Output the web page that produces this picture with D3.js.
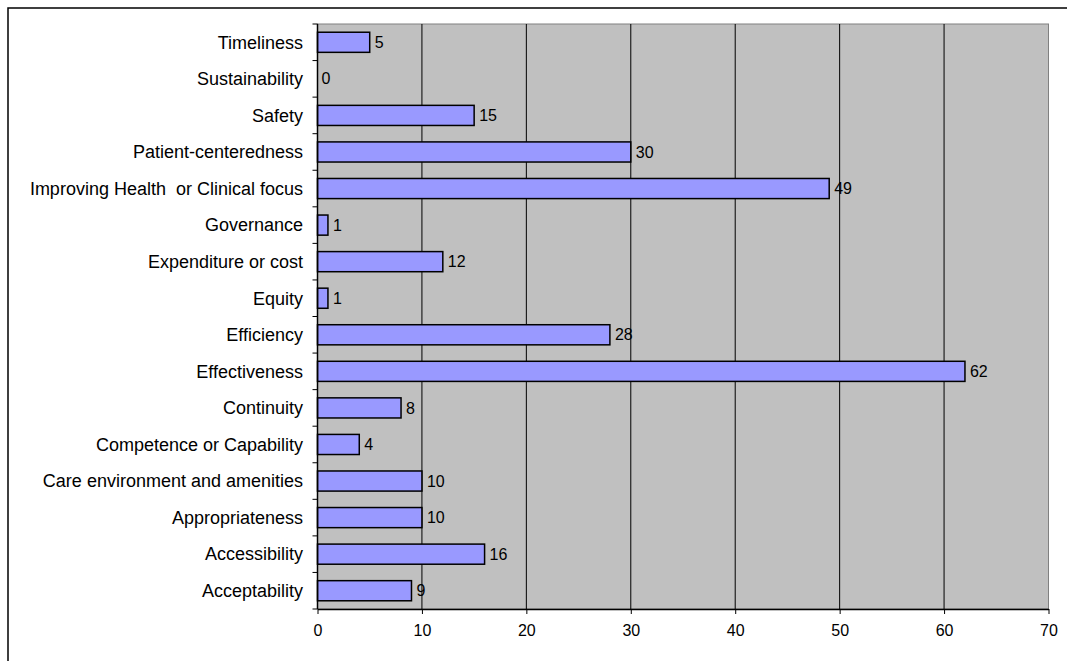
<!DOCTYPE html>
<html lang="en">
  <head>
    <meta charset="UTF-8" />
    <title>Quality dimensions</title>
    <style>
      body { margin: 0; background: #fff; }
      text { font-family: "Liberation Sans", Arial, sans-serif; fill: #000; white-space: pre; }
    </style>
  </head>
  <script src="https://d3js.org/d3.v7.min.js"></script>
  <body>
    <div id="chart"></div>
  </body>
  <script>
    // categories listed bottom to top, as in the picture
    const categories = [
      "Acceptability",
      "Accessibility",
      "Appropriateness",
      "Care environment and amenities",
      "Competence or Capability",
      "Continuity",
      "Effectiveness",
      "Efficiency",
      "Equity",
      "Expenditure or cost",
      "Governance",
      "Improving Health  or Clinical focus",
      "Patient-centeredness",
      "Safety",
      "Sustainability",
      "Timeliness",
    ];
    const values = [9, 16, 10, 10, 4, 8, 62, 28, 1, 12, 1, 49, 30, 15, 0, 5];
    const xTicks = [0, 10, 20, 30, 40, 50, 60, 70];

    const width = 1067,
      height = 661;
    const plot = { left: 317.5, right: 1048.5, top: 24, bottom: 609 };

    const svg = d3
      .select("#chart")
      .append("svg")
      .attr("width", width)
      .attr("height", height);

    // outer frame (runs off the right and bottom edges)
    svg
      .append("rect")
      .attr("x", 8)
      .attr("y", 8)
      .attr("width", width)
      .attr("height", height)
      .attr("fill", "none")
      .attr("stroke", "#000")
      .attr("stroke-width", 1.5);

    const x = d3.scaleLinear().domain([0, 70]).range([plot.left, plot.right]);
    const y = d3
      .scaleBand()
      .domain(categories.slice().reverse())
      .range([plot.top, plot.bottom])
      .paddingInner(0.45)
      .paddingOuter(0.225);

    // plot background
    svg
      .append("rect")
      .attr("x", plot.left)
      .attr("y", plot.top)
      .attr("width", plot.right - plot.left)
      .attr("height", plot.bottom - plot.top)
      .attr("fill", "#c0c0c0")
      .attr("stroke", "#808080")
      .attr("stroke-width", 1);

    // vertical gridlines
    svg
      .append("g")
      .selectAll("line")
      .data(xTicks.filter((d) => d > 0 && d < 70))
      .join("line")
      .attr("x1", (d) => x(d))
      .attr("x2", (d) => x(d))
      .attr("y1", plot.top)
      .attr("y2", plot.bottom)
      .attr("stroke", "#000")
      .attr("stroke-width", 1);

    // bars
    svg
      .append("g")
      .selectAll("rect")
      .data(values)
      .join("rect")
      .attr("x", x(0))
      .attr("y", (d, i) => y(categories[i]))
      .attr("width", (d) => x(d) - x(0))
      .attr("height", y.bandwidth())
      .attr("fill", (d) => (d > 0 ? "#9999ff" : "none"))
      .attr("stroke", (d) => (d > 0 ? "#000" : "none"))
      .attr("stroke-width", 1.5);

    // value labels
    svg
      .append("g")
      .selectAll("text")
      .data(values)
      .join("text")
      .attr("x", (d) => x(d) + (d > 0 ? 5 : 4))
      .attr("y", (d, i) => y(categories[i]) + y.bandwidth() / 2)
      .attr("dy", "0.35em")
      .attr("font-size", 16)
      .text((d) => d);

    // x axis
    const xAxis = svg
      .append("g")
      .attr("transform", `translate(0,${plot.bottom})`)
      .call(d3.axisBottom(x).tickValues(xTicks).tickSize(5).tickPadding(11).tickSizeOuter(0));
    xAxis.select(".domain").attr("stroke", "#000").attr("stroke-width", 1.5);
    xAxis.selectAll("text").attr("font-size", 16).attr("font-family", null);

    // y axis: ticks at band boundaries
    const step = y.step();
    const boundaries = d3.range(categories.length + 1).map((i) => plot.top + i * step);
    svg
      .append("line")
      .attr("x1", plot.left)
      .attr("x2", plot.left)
      .attr("y1", plot.top)
      .attr("y2", plot.bottom)
      .attr("stroke", "#000")
      .attr("stroke-width", 1.5);
    svg
      .append("g")
      .selectAll("line")
      .data(boundaries)
      .join("line")
      .attr("x1", plot.left - 5)
      .attr("x2", plot.left)
      .attr("y1", (d) => d)
      .attr("y2", (d) => d)
      .attr("stroke", "#000")
      .attr("stroke-width", 1);

    svg
      .append("g")
      .selectAll("text")
      .data(categories)
      .join("text")
      .attr("x", 303)
      .attr("y", (d) => y(d) + y.bandwidth() / 2)
      .attr("dy", "0.35em")
      .attr("text-anchor", "end")
      .attr("font-size", 18)
      .text((d) => d);
  </script>
</html>
